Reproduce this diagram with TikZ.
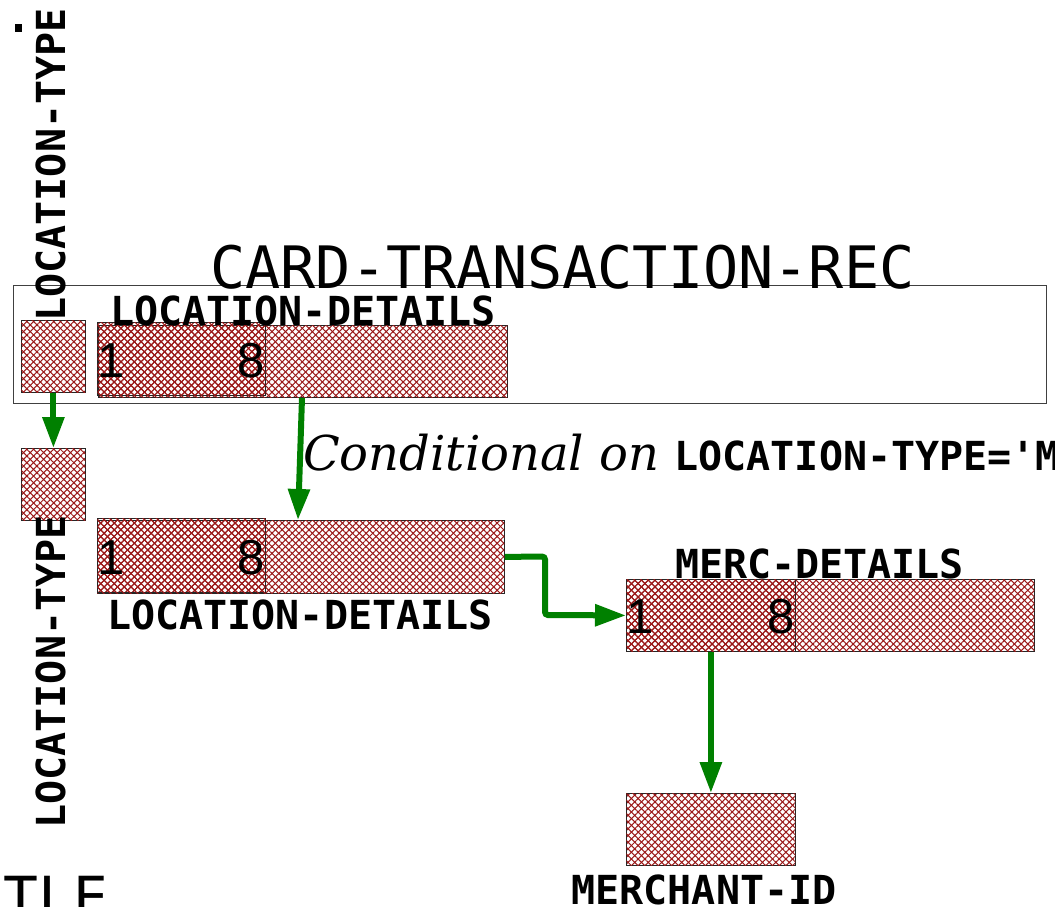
\documentclass[tikz,border=0pt]{standalone}
\usepackage{fontspec}
\setmonofont{DejaVu Sans Mono}
\newfontfamily\condfont{DejaVu Serif}
\newfontfamily\digitfont{Liberation Sans}
\usetikzlibrary{patterns.meta,arrows.meta,calc}

\definecolor{hatchred}{RGB}{155,25,25}
\definecolor{linkgreen}{RGB}{0,128,0}

\tikzset{
  hatched/.style={
    pattern={Lines[angle=45,distance=4.75pt,line width=1.05pt]}, pattern color=hatchred,
    postaction={pattern={Lines[angle=-45,distance=4.75pt,line width=1.05pt]}, pattern color=hatchred}},
  field/.style={hatched, draw=black!85, line width=0.8pt, rectangle, inner sep=0pt,
    anchor=north west, minimum height=72pt},
  subfield/.style={field},
  fieldname/.style={font=\ttfamily\bfseries\fontsize{40}{40}\selectfont, inner sep=0pt, anchor=base},
  digit/.style={font=\digitfont\fontsize{49}{49}\selectfont, inner sep=0pt},
  link/.style={draw=linkgreen, line width=6pt, -{Triangle[length=31pt,width=21pt]}},
}

\begin{document}
\begin{tikzpicture}[x=1pt,y=-1pt]
\clip (0,0) rectangle (1055,906);
\fill[white] (0,0) rectangle (1055,906);

% record container
\node[draw=black!75, line width=1pt, inner sep=0pt, anchor=north west,
      minimum width=1033pt, minimum height=118pt] (rec) at (13,285) {};
\node[font=\ttfamily\fontsize{58.5}{58.5}\selectfont, inner sep=0pt, anchor=base] (title)
      at (562.5,288) {CARD-TRANSACTION-REC};

% upper row
\node[field, minimum width=64pt] (ltA) at (21,320) {};
\node[field, minimum width=409pt] (ldA) at (98,325) {};
\node[subfield, minimum width=168pt, minimum height=73pt] (ldAs) at (97,322) {};
\node[digit, anchor=west] (ldA1) at ($(ldAs.west)+(0,1.5)$) {1};
\node[digit, anchor=east] (ldA8) at ($(ldAs.east)+(-1,1.5)$) {8};
\node[fieldname] (ldAname) at (303,325) {LOCATION-DETAILS};
\node[fieldname, rotate=90] (ltAname) at (65,165) {LOCATION-TYPE};
\fill (15,24) rectangle (22,32);

% lower left
\node[field, minimum width=64pt] (ltB) at (21,448) {};
\node[fieldname, rotate=90] (ltBname) at (65,672) {LOCATION-TYPE};
\node[field, minimum width=407pt, minimum height=73pt] (ldB) at (97,520) {};
\node[subfield, minimum width=168pt, minimum height=74pt] (ldBs) at (97,518) {};
\node[digit, anchor=west] (ldB1) at ($(ldBs.west)+(0,2)$) {1};
\node[digit, anchor=east] (ldB8) at ($(ldBs.east)+(-1,2)$) {8};
\node[fieldname] (ldBname) at (300,629) {LOCATION-DETAILS};

% merchant details
\node[field, minimum width=408pt] (md) at (626,579) {};
\node[subfield, minimum width=169pt] (mds) at (626,579) {};
\node[digit, anchor=west] (md1) at ($(mds.west)+(0,1)$) {1};
\node[digit, anchor=east] (md8) at ($(mds.east)+(-1,1)$) {8};
\node[fieldname] (mdname) at (819.5,578) {MERC-DETAILS};

\node[field, minimum width=169pt] (mid) at (626,793) {};
\node[fieldname] (midname) at (704,904) {MERCHANT-ID};

\node[font=\ttfamily\fontsize{58}{58}\selectfont, inner sep=0pt, anchor=base west] (tle)
      at (3.5,918) {TLE};

% condition text
\node[inner sep=0pt, anchor=base west] (cond) at (303,470)
  {{\condfont\itshape\fontsize{48}{48}\selectfont Conditional on }{\ttfamily\bfseries\fontsize{40}{40}\selectfont LOCATION-TYPE='M}};

% links
\draw[link] (ltA.south) -- (ltB.north);
\draw[link] ([xshift=204pt]ldA.south west) -- ([xshift=201pt]ldB.north west);
\draw[link, rounded corners=3pt] (ldB.east) -- (545,556.5) -- (545,615) -- (md.west);
\draw[link] (mid.north |- md.south) -- (mid.north);
\end{tikzpicture}
\end{document}
